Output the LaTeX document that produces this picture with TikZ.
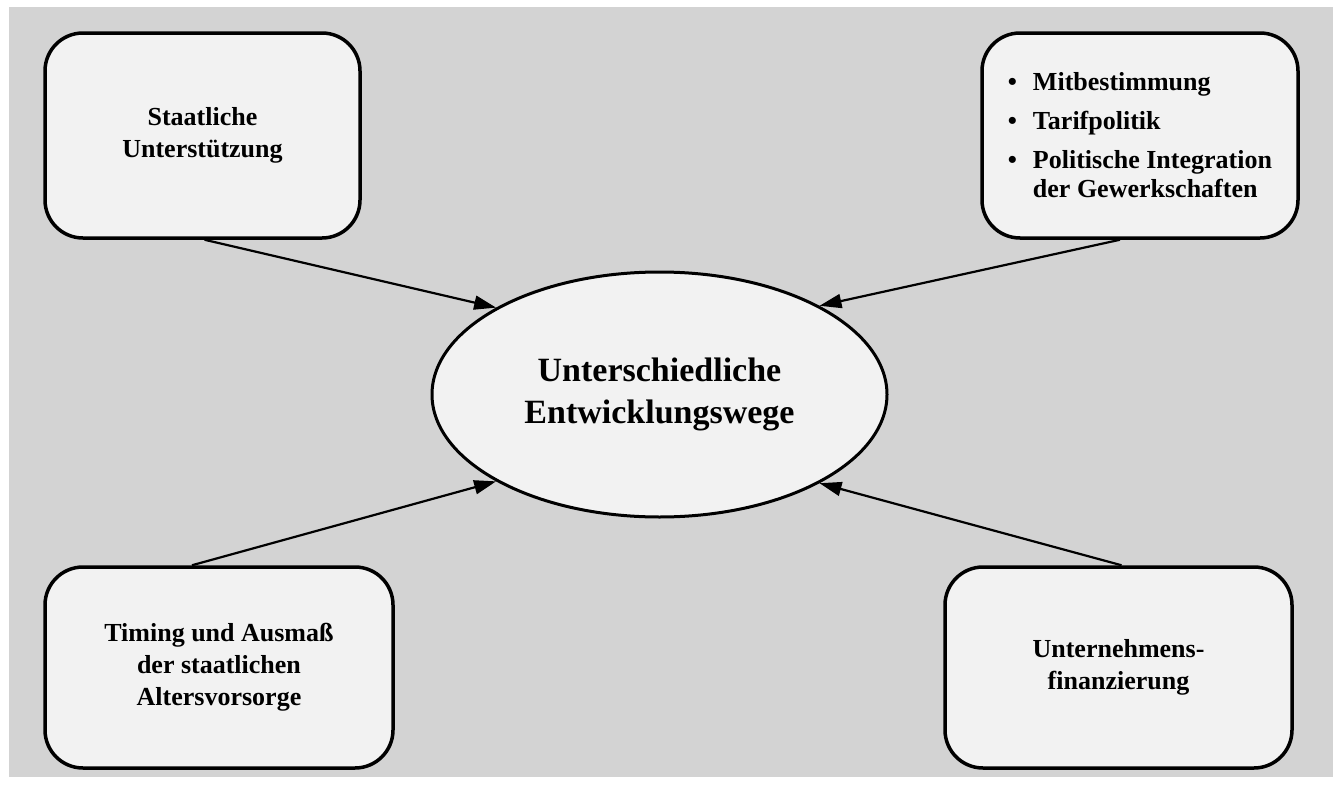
\documentclass[tikz,border=0pt]{standalone}
\usepackage{fontspec}
\setmainfont{Liberation Serif}
\usetikzlibrary{shapes.geometric, arrows.meta}
\definecolor{bggray}{RGB}{211,211,211}
\definecolor{boxfill}{RGB}{242,242,242}

\tikzset{
	factor/.style={draw, line width=3.5pt, rounded corners=38pt, fill=boxfill, align=center, inner sep=0pt, font=\bfseries\fontsize{26}{32}\selectfont},
	core/.style={draw, ellipse, line width=3pt, fill=boxfill, align=center, inner sep=0pt, font=\bfseries\fontsize{34}{42}\selectfont},
	link/.style={line width=2.2pt, -{Triangle[length=22pt, width=14pt]}}
}

\begin{document}
\begin{tikzpicture}[x=1pt, y=-1pt]
	% Background:
	\useasboundingbox (0,0) rectangle (1339,787);
	\fill[bggray] (9,7) rectangle (1333,777);
	% Nodes:
	\node[core, minimum width=455pt, minimum height=245pt](Wege) at (659.5, 394.5){Unterschiedliche\\Entwicklungswege};
	\node[factor, minimum width=315pt, minimum height=205pt](Staat) at (202.5, 135.5){Staatliche\\Unterstützung};
	\node[factor, minimum width=316pt, minimum height=205pt, align=left, font=\bfseries\fontsize{26}{29}\selectfont](Gewerk) at (1140, 135.5){\makebox[25pt][l]{\textbullet}Mitbestimmung\\[10pt]\makebox[25pt][l]{\textbullet}Tarifpolitik\\[10pt]\makebox[25pt][l]{\textbullet}Politische Integration\\\hspace*{25pt}der Gewerkschaften};
	\node[factor, minimum width=348pt, minimum height=201pt](Rente) at (219, 667.5){Timing und Ausmaß\\der staatlichen\\Altersvorsorge};
	\node[factor, minimum width=347pt, minimum height=201pt](Finanz) at (1118.5, 667.5){Unternehmens-\\finanzierung};
	% Arrows:
	\draw[link] ([xshift=2pt]Staat.south) -- (Wege.152);
	\draw[link] ([xshift=-20pt]Gewerk.south) -- (Wege.29);
	\draw[link] ([xshift=-27pt]Rente.north) -- (Wege.208);
	\draw[link] ([xshift=3pt]Finanz.north) -- (Wege.331);
\end{tikzpicture}
\end{document}
